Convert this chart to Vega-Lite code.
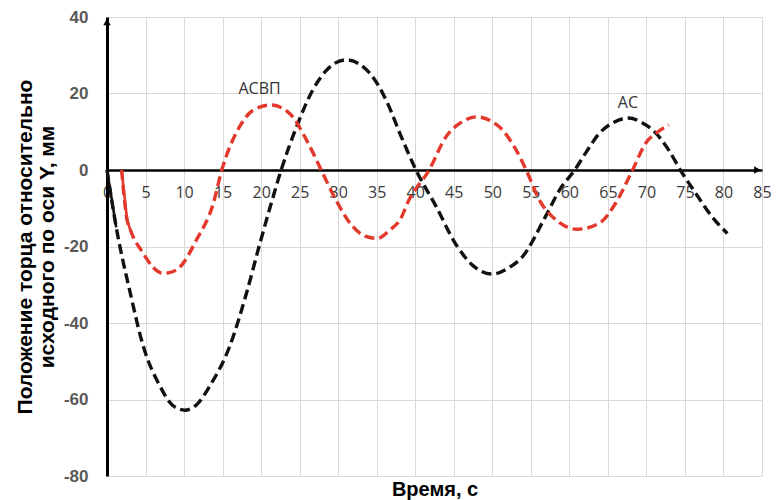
{
  "$schema": "https://vega.github.io/schema/vega-lite/v6.json",
  "autosize": {"type": "none"},
  "width": 655,
  "height": 459,
  "padding": {"left": 107, "top": 17, "right": 22, "bottom": 24},
  "background": "white",
  "config": {"view": {"stroke": null}},
  "datasets": {
    "curves": [
      {"series": "АС", "t": 0, "y": 0},
      {"series": "АС", "t": 1.2, "y": -15},
      {"series": "АС", "t": 3.0, "y": -32},
      {"series": "АС", "t": 4.7, "y": -46},
      {"series": "АС", "t": 6.9, "y": -56.6},
      {"series": "АС", "t": 8.5, "y": -61.5},
      {"series": "АС", "t": 10.1, "y": -62.8},
      {"series": "АС", "t": 11.8, "y": -61},
      {"series": "АС", "t": 13.3, "y": -56.6},
      {"series": "АС", "t": 15.9, "y": -46.2},
      {"series": "АС", "t": 18.1, "y": -32.2},
      {"series": "АС", "t": 19.8, "y": -19.5},
      {"series": "АС", "t": 21.2, "y": -9.5},
      {"series": "АС", "t": 22.6, "y": 0},
      {"series": "АС", "t": 24.6, "y": 11.3},
      {"series": "АС", "t": 26.7, "y": 20.9},
      {"series": "АС", "t": 28.5, "y": 26.1},
      {"series": "АС", "t": 31.0, "y": 28.8},
      {"series": "АС", "t": 34.1, "y": 25.3},
      {"series": "АС", "t": 36.4, "y": 17.5},
      {"series": "АС", "t": 38.0, "y": 9.6},
      {"series": "АС", "t": 40.1, "y": 0},
      {"series": "АС", "t": 42.7, "y": -9.5},
      {"series": "АС", "t": 45.3, "y": -19.5},
      {"series": "АС", "t": 47.5, "y": -25},
      {"series": "АС", "t": 50.0, "y": -27.2},
      {"series": "АС", "t": 52.2, "y": -25.5},
      {"series": "АС", "t": 53.9, "y": -22.7},
      {"series": "АС", "t": 56.9, "y": -12.2},
      {"series": "АС", "t": 58.8, "y": -5},
      {"series": "АС", "t": 60.7, "y": 0},
      {"series": "АС", "t": 62.1, "y": 4.4},
      {"series": "АС", "t": 63.9, "y": 9.6},
      {"series": "АС", "t": 65.8, "y": 12.5},
      {"series": "АС", "t": 67.7, "y": 13.6},
      {"series": "АС", "t": 69.5, "y": 12.3},
      {"series": "АС", "t": 70.8, "y": 10.5},
      {"series": "АС", "t": 72.9, "y": 5.2},
      {"series": "АС", "t": 74.4, "y": 0},
      {"series": "АС", "t": 76.4, "y": -6.1},
      {"series": "АС", "t": 78.5, "y": -12.2},
      {"series": "АС", "t": 80.5, "y": -16.6},
      {"series": "АСВП", "t": 1.9, "y": 0},
      {"series": "АСВП", "t": 2.6, "y": -13},
      {"series": "АСВП", "t": 3.0, "y": -15.5},
      {"series": "АСВП", "t": 4.7, "y": -21.8},
      {"series": "АСВП", "t": 6.0, "y": -25.5},
      {"series": "АСВП", "t": 7.3, "y": -27},
      {"series": "АСВП", "t": 8.5, "y": -26.6},
      {"series": "АСВП", "t": 9.5, "y": -25.3},
      {"series": "АСВП", "t": 11.6, "y": -18.3},
      {"series": "АСВП", "t": 13.8, "y": -8.7},
      {"series": "АСВП", "t": 14.9, "y": 0},
      {"series": "АСВП", "t": 17.2, "y": 11.3},
      {"series": "АСВП", "t": 19.0, "y": 15.7},
      {"series": "АСВП", "t": 21.3, "y": 17.0},
      {"series": "АСВП", "t": 23.7, "y": 14.8},
      {"series": "АСВП", "t": 25.9, "y": 7.8},
      {"series": "АСВП", "t": 27.8, "y": 0},
      {"series": "АСВП", "t": 29.7, "y": -7.8},
      {"series": "АСВП", "t": 31.9, "y": -14.8},
      {"series": "АСВП", "t": 33.5, "y": -17.3},
      {"series": "АСВП", "t": 35.1, "y": -17.9},
      {"series": "АСВП", "t": 36.7, "y": -15.7},
      {"series": "АСВП", "t": 38.0, "y": -13.1},
      {"series": "АСВП", "t": 39.2, "y": -7.8},
      {"series": "АСВП", "t": 41.8, "y": 0},
      {"series": "АСВП", "t": 44.0, "y": 8.7},
      {"series": "АСВП", "t": 46.0, "y": 12.5},
      {"series": "АСВП", "t": 47.9, "y": 13.9},
      {"series": "АСВП", "t": 50.9, "y": 11.3},
      {"series": "АСВП", "t": 53.1, "y": 5.2},
      {"series": "АСВП", "t": 54.4, "y": 0},
      {"series": "АСВП", "t": 56.1, "y": -7.8},
      {"series": "АСВП", "t": 58.3, "y": -13.1},
      {"series": "АСВП", "t": 61.0, "y": -15.5},
      {"series": "АСВП", "t": 63.9, "y": -13.9},
      {"series": "АСВП", "t": 66.0, "y": -8.7},
      {"series": "АСВП", "t": 68.2, "y": 0},
      {"series": "АСВП", "t": 69.9, "y": 7.0},
      {"series": "АСВП", "t": 71.5, "y": 10},
      {"series": "АСВП", "t": 72.9, "y": 11.8}
    ],
    "labels": [
      {"label": "АСВП", "t": 19.8, "y": 21.3},
      {"label": "АС", "t": 67.6, "y": 17.4}
    ],
    "arrows": [
      {"dir": "x", "t": 84.4, "y": 0},
      {"dir": "y", "t": 0, "y": 38.7}
    ]
  },
  "encoding": {
    "x": {
      "field": "t", "type": "quantitative",
      "scale": {"domain": [0, 85], "nice": false, "zero": false},
      "axis": {
        "values": [0, 5, 10, 15, 20, 25, 30, 35, 40, 45, 50, 55, 60, 65, 70, 75, 80, 85],
        "offset": -306,
        "domainColor": "#000000",
        "domainWidth": 2.5,
        "ticks": false,
        "grid": true,
        "gridColor": "#d9d9d9",
        "gridWidth": 1,
        "labelFont": "Open Sans",
        "labelFontSize": 16,
        "labelColor": "#3a3a3a",
        "labelPadding": 14,
        "labelFlush": false,
        "labelOverlap": false,
        "labelExpr": "toString(datum.value)",
        "title": "Время, с",
        "titleFont": "Liberation Sans",
        "titleFontSize": 20,
        "titleFontWeight": "bold",
        "titleColor": "#000000",
        "titleY": 309,
        "titleBaseline": "top"
      }
    },
    "y": {
      "field": "y", "type": "quantitative",
      "scale": {"domain": [-80, 40], "nice": false},
      "axis": {
        "values": [-80, -60, -40, -20, 0, 20, 40],
        "domainColor": "#000000",
        "domainWidth": 3,
        "ticks": false,
        "grid": true,
        "gridColor": "#d9d9d9",
        "gridWidth": 1,
        "labelFont": "Liberation Sans",
        "labelFontSize": 17,
        "labelFontWeight": "bold",
        "labelColor": "#595959",
        "labelPadding": 19,
        "labelFlush": false,
        "labelExpr": "toString(datum.value)",
        "title": ["Положение торца относительно", "исходного по оси Y, мм"],
        "titleFont": "Liberation Sans",
        "titleFontSize": 21,
        "titleFontWeight": "bold",
        "titleColor": "#000000",
        "titleLineHeight": 22,
        "titlePadding": 6
      }
    }
  },
  "layer": [
    {
      "data": {"name": "curves"},
      "mark": {"type": "line", "interpolate": "monotone", "strokeWidth": 3.4, "strokeDash": [10, 5]},
      "encoding": {
        "color": {
          "field": "series", "type": "nominal",
          "scale": {"domain": ["АСВП", "АС"], "range": ["#e3382b", "#111111"]},
          "legend": null
        },
        "order": {"field": "t", "type": "quantitative"}
      }
    },
    {
      "data": {"name": "curves"},
      "transform": [
        {"filter": "(datum.series == 'АСВП' && datum.t <= 3.0) || (datum.series == 'АС' && datum.t <= 1.2)"}
      ],
      "mark": {"type": "line", "strokeWidth": 2.6},
      "encoding": {
        "color": {"field": "series", "type": "nominal", "legend": null},
        "order": {"field": "t", "type": "quantitative"}
      }
    },
    {
      "data": {"name": "arrows"},
      "mark": {"type": "point", "filled": true, "opacity": 1, "color": "#000000", "size": 55},
      "encoding": {
        "shape": {
          "field": "dir", "type": "nominal",
          "scale": {"domain": ["x", "y"], "range": ["triangle-right", "triangle-up"]},
          "legend": null
        }
      }
    },
    {
      "data": {"name": "labels"},
      "mark": {"type": "text", "font": "Open Sans", "fontSize": 16, "color": "#333333", "align": "center", "baseline": "middle"},
      "encoding": {
        "text": {"field": "label", "type": "nominal"}
      }
    }
  ]
}
